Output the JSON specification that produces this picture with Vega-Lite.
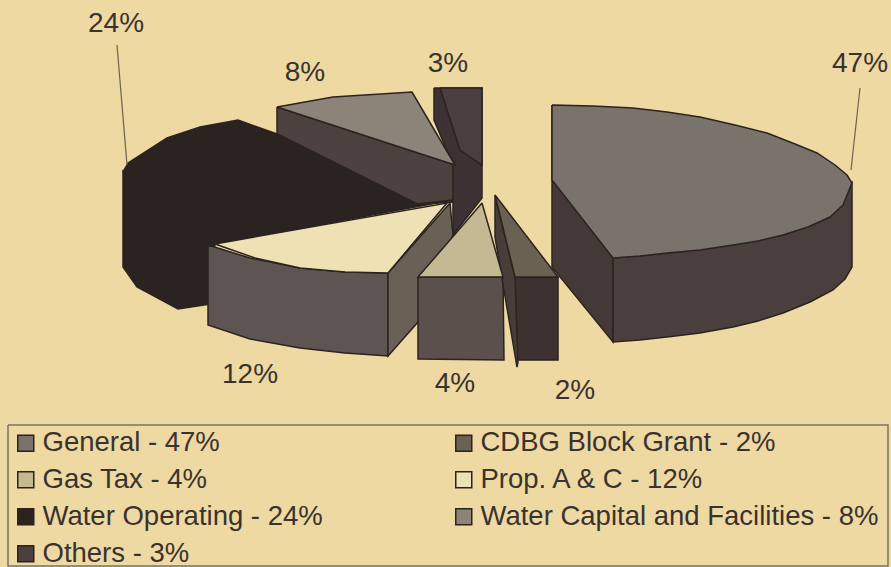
{"$schema":"https://vega.github.io/schema/vega-lite/v6.json","width":891,"height":567,"padding":0,"autosize":{"type":"none"},"background":"#eed9a2","view":{"stroke":null},
"datasets":{
"slices":[
{"slice":"General - 47%","share":47,"label":"47%","lx":860,"ly":64},
{"slice":"CDBG Block Grant - 2%","share":2,"label":"2%","lx":575,"ly":391},
{"slice":"Gas Tax - 4%","share":4,"label":"4%","lx":455,"ly":384},
{"slice":"Prop. A & C - 12%","share":12,"label":"12%","lx":250,"ly":375},
{"slice":"Water Operating - 24%","share":24,"label":"24%","lx":116,"ly":24},
{"slice":"Water Capital and Facilities - 8%","share":8,"label":"8%","lx":305,"ly":73},
{"slice":"Others - 3%","share":3,"label":"3%","lx":448,"ly":64}],
"sides":[
{"piece":"Water Operating side","n":1,"x":123,"y":170},{"piece":"Water Operating side","n":2,"x":123,"y":267},{"piece":"Water Operating side","n":3,"x":137,"y":287},{"piece":"Water Operating side","n":4,"x":178,"y":309},{"piece":"Water Operating side","n":5,"x":210,"y":304},{"piece":"Water Operating side","n":6,"x":215,"y":244},{"piece":"Water Operating side","n":7,"x":123,"y":170},
{"piece":"Water Capital side","n":1,"x":277,"y":107},{"piece":"Water Capital side","n":2,"x":455,"y":165},{"piece":"Water Capital side","n":3,"x":455,"y":202},{"piece":"Water Capital side","n":4,"x":417,"y":204},{"piece":"Water Capital side","n":5,"x":277,"y":134},{"piece":"Water Capital side","n":6,"x":277,"y":107},
{"piece":"Others side","n":1,"x":434,"y":88},{"piece":"Others side","n":2,"x":482,"y":88},{"piece":"Others side","n":3,"x":482,"y":198},{"piece":"Others side","n":4,"x":453,"y":235},{"piece":"Others side","n":5,"x":453,"y":165},{"piece":"Others side","n":6,"x":434,"y":120},{"piece":"Others side","n":7,"x":434,"y":88},
{"piece":"General cut","n":1,"x":552,"y":105},{"piece":"General cut","n":2,"x":613,"y":258},{"piece":"General cut","n":3,"x":613,"y":342},{"piece":"General cut","n":4,"x":552,"y":267},{"piece":"General cut","n":5,"x":552,"y":105},
{"piece":"General side","n":1,"x":613,"y":258},{"piece":"General side","n":2,"x":667,"y":253},{"piece":"General side","n":3,"x":733,"y":245},{"piece":"General side","n":4,"x":783,"y":235},{"piece":"General side","n":5,"x":830,"y":217},{"piece":"General side","n":6,"x":852,"y":183},{"piece":"General side","n":7,"x":852,"y":267},{"piece":"General side","n":8,"x":845,"y":279},{"piece":"General side","n":9,"x":833,"y":290},{"piece":"General side","n":10,"x":810,"y":302},{"piece":"General side","n":11,"x":783,"y":313},{"piece":"General side","n":12,"x":758,"y":321},{"piece":"General side","n":13,"x":733,"y":327},{"piece":"General side","n":14,"x":700,"y":333},{"piece":"General side","n":15,"x":667,"y":337},{"piece":"General side","n":16,"x":640,"y":340},{"piece":"General side","n":17,"x":613,"y":342},{"piece":"General side","n":18,"x":613,"y":258},
{"piece":"Prop outer","n":1,"x":208,"y":245},{"piece":"Prop outer","n":2,"x":250,"y":258},{"piece":"Prop outer","n":3,"x":300,"y":268},{"piece":"Prop outer","n":4,"x":345,"y":272},{"piece":"Prop outer","n":5,"x":388,"y":273},{"piece":"Prop outer","n":6,"x":388,"y":356},{"piece":"Prop outer","n":7,"x":345,"y":353},{"piece":"Prop outer","n":8,"x":300,"y":348},{"piece":"Prop outer","n":9,"x":250,"y":339},{"piece":"Prop outer","n":10,"x":208,"y":325},{"piece":"Prop outer","n":11,"x":208,"y":245},
{"piece":"Prop cut","n":1,"x":388,"y":273},{"piece":"Prop cut","n":2,"x":450,"y":203},{"piece":"Prop cut","n":3,"x":453,"y":235},{"piece":"Prop cut","n":4,"x":418,"y":322},{"piece":"Prop cut","n":5,"x":388,"y":356},{"piece":"Prop cut","n":6,"x":388,"y":273},
{"piece":"Gas Tax side","n":1,"x":418,"y":277},{"piece":"Gas Tax side","n":2,"x":503,"y":277},{"piece":"Gas Tax side","n":3,"x":504,"y":360},{"piece":"Gas Tax side","n":4,"x":418,"y":359},{"piece":"Gas Tax side","n":5,"x":418,"y":277},
{"piece":"CDBG front","n":1,"x":507,"y":277},{"piece":"CDBG front","n":2,"x":558,"y":277},{"piece":"CDBG front","n":3,"x":558,"y":360},{"piece":"CDBG front","n":4,"x":517,"y":360},{"piece":"CDBG front","n":5,"x":507,"y":277},
{"piece":"CDBG cut","n":1,"x":495,"y":195},{"piece":"CDBG cut","n":2,"x":515,"y":277},{"piece":"CDBG cut","n":3,"x":518,"y":362},{"piece":"CDBG cut","n":4,"x":517,"y":367},{"piece":"CDBG cut","n":5,"x":495,"y":237},{"piece":"CDBG cut","n":6,"x":495,"y":195}],
"tops":[
{"slice":"Water Operating - 24%","n":1,"x":123,"y":172},{"slice":"Water Operating - 24%","n":2,"x":128,"y":163},{"slice":"Water Operating - 24%","n":3,"x":167,"y":138},{"slice":"Water Operating - 24%","n":4,"x":200,"y":127},{"slice":"Water Operating - 24%","n":5,"x":238,"y":120},{"slice":"Water Operating - 24%","n":6,"x":277,"y":134},{"slice":"Water Operating - 24%","n":7,"x":417,"y":204},{"slice":"Water Operating - 24%","n":8,"x":453,"y":200},{"slice":"Water Operating - 24%","n":9,"x":215,"y":244},{"slice":"Water Operating - 24%","n":10,"x":123,"y":172},
{"slice":"Water Capital and Facilities - 8%","n":1,"x":277,"y":107},{"slice":"Water Capital and Facilities - 8%","n":2,"x":333,"y":97},{"slice":"Water Capital and Facilities - 8%","n":3,"x":412,"y":92},{"slice":"Water Capital and Facilities - 8%","n":4,"x":455,"y":165},{"slice":"Water Capital and Facilities - 8%","n":5,"x":277,"y":107},
{"slice":"Others - 3%","n":1,"x":440,"y":88},{"slice":"Others - 3%","n":2,"x":482,"y":88},{"slice":"Others - 3%","n":3,"x":482,"y":165},{"slice":"Others - 3%","n":4,"x":460,"y":150},{"slice":"Others - 3%","n":5,"x":440,"y":88},
{"slice":"General - 47%","n":1,"x":552,"y":105},{"slice":"General - 47%","n":2,"x":593,"y":106},{"slice":"General - 47%","n":3,"x":633,"y":108},{"slice":"General - 47%","n":4,"x":667,"y":112},{"slice":"General - 47%","n":5,"x":700,"y":117},{"slice":"General - 47%","n":6,"x":735,"y":125},{"slice":"General - 47%","n":7,"x":767,"y":133},{"slice":"General - 47%","n":8,"x":795,"y":144},{"slice":"General - 47%","n":9,"x":817,"y":153},{"slice":"General - 47%","n":10,"x":835,"y":165},{"slice":"General - 47%","n":11,"x":847,"y":175},{"slice":"General - 47%","n":12,"x":852,"y":183},{"slice":"General - 47%","n":13,"x":843,"y":205},{"slice":"General - 47%","n":14,"x":830,"y":217},{"slice":"General - 47%","n":15,"x":808,"y":227},{"slice":"General - 47%","n":16,"x":783,"y":235},{"slice":"General - 47%","n":17,"x":758,"y":241},{"slice":"General - 47%","n":18,"x":733,"y":245},{"slice":"General - 47%","n":19,"x":700,"y":250},{"slice":"General - 47%","n":20,"x":667,"y":253},{"slice":"General - 47%","n":21,"x":640,"y":256},{"slice":"General - 47%","n":22,"x":613,"y":258},{"slice":"General - 47%","n":23,"x":552,"y":180},{"slice":"General - 47%","n":24,"x":552,"y":105},
{"slice":"Prop. A & C - 12%","n":1,"x":215,"y":244},{"slice":"Prop. A & C - 12%","n":2,"x":255,"y":258},{"slice":"Prop. A & C - 12%","n":3,"x":300,"y":268},{"slice":"Prop. A & C - 12%","n":4,"x":345,"y":272},{"slice":"Prop. A & C - 12%","n":5,"x":388,"y":273},{"slice":"Prop. A & C - 12%","n":6,"x":447,"y":203},{"slice":"Prop. A & C - 12%","n":7,"x":215,"y":244},
{"slice":"Gas Tax - 4%","n":1,"x":482,"y":203},{"slice":"Gas Tax - 4%","n":2,"x":503,"y":277},{"slice":"Gas Tax - 4%","n":3,"x":418,"y":277},{"slice":"Gas Tax - 4%","n":4,"x":482,"y":203},
{"slice":"CDBG Block Grant - 2%","n":1,"x":495,"y":195},{"slice":"CDBG Block Grant - 2%","n":2,"x":558,"y":277},{"slice":"CDBG Block Grant - 2%","n":3,"x":515,"y":277},{"slice":"CDBG Block Grant - 2%","n":4,"x":495,"y":195}],
"leaders":[
{"leader":"24%","n":1,"x":117,"y":45},{"leader":"24%","n":2,"x":127,"y":165},
{"leader":"47%","n":1,"x":860,"y":88},{"leader":"47%","n":2,"x":851,"y":170}],
"frame":[{"n":1,"x":8,"y":425},{"n":2,"x":888,"y":425},{"n":3,"x":888,"y":566},{"n":4,"x":8,"y":566},{"n":5,"x":8,"y":425}]
},
"layer":[
{"data":{"name":"frame"},"mark":{"type":"line","stroke":"#7a7465","strokeWidth":1.5},
"encoding":{"x":{"field":"x","type":"quantitative","scale":{"domain":[0,891],"nice":false,"zero":false},"axis":null},"y":{"field":"y","type":"quantitative","scale":{"domain":[567,0],"nice":false,"zero":false},"axis":null},"order":{"field":"n"}}},
{"data":{"name":"sides"},"mark":{"type":"line","stroke":"#2b2320","strokeWidth":1.5},
"encoding":{"x":{"field":"x","type":"quantitative"},"y":{"field":"y","type":"quantitative"},"order":{"field":"n"},
"fill":{"field":"piece","type":"nominal","legend":null,"scale":{"domain":["Water Operating side","Water Capital side","Others side","General cut","General side","Prop outer","Prop cut","Gas Tax side","CDBG front","CDBG cut"],"range":["#2b2320","#4c413e","#3d3133","#443936","#4a3f3c","#5e5552","#6a6056","#5b504c","#3d3230","#483d38"]}}}},
{"data":{"name":"tops"},"mark":{"type":"line","stroke":"#2b2320","strokeWidth":1.5},
"encoding":{"x":{"field":"x","type":"quantitative"},"y":{"field":"y","type":"quantitative"},"order":{"field":"n"},
"fill":{"field":"slice","type":"nominal","scale":{"domain":["General - 47%","Gas Tax - 4%","Water Operating - 24%","Others - 3%","CDBG Block Grant - 2%","Prop. A & C - 12%","Water Capital and Facilities - 8%"],"range":["#7a736c","#c4b993","#2b2320","#4a3e40","#6a6152","#eee1b4","#8c8478"]},
"legend":{"orient":"none","legendX":8,"legendY":425,"columns":2,"title":null,"symbolType":"square","symbolSize":256,"symbolStrokeWidth":1.5,"symbolStrokeColor":"#2b2320","labelFont":"Liberation Sans","labelFontSize":27.5,"labelColor":"#3a3230","labelLimit":600,"labelOffset":3,"rowPadding":8,"columnPadding":127,"padding":4,"gridAlign":"each"}}}},
{"data":{"name":"leaders"},"mark":{"type":"line","stroke":"#6e6350","strokeWidth":1.2},
"encoding":{"x":{"field":"x","type":"quantitative"},"y":{"field":"y","type":"quantitative"},"order":{"field":"n"},"detail":{"field":"leader"}}},
{"data":{"name":"slices"},"mark":{"type":"text","font":"Liberation Sans","fontSize":28,"fill":"#3a3230","baseline":"middle","align":"center"},
"encoding":{"x":{"field":"lx","type":"quantitative"},"y":{"field":"ly","type":"quantitative"},"text":{"field":"label"}}}
],
"resolve":{"scale":{"fill":"independent"}}}
